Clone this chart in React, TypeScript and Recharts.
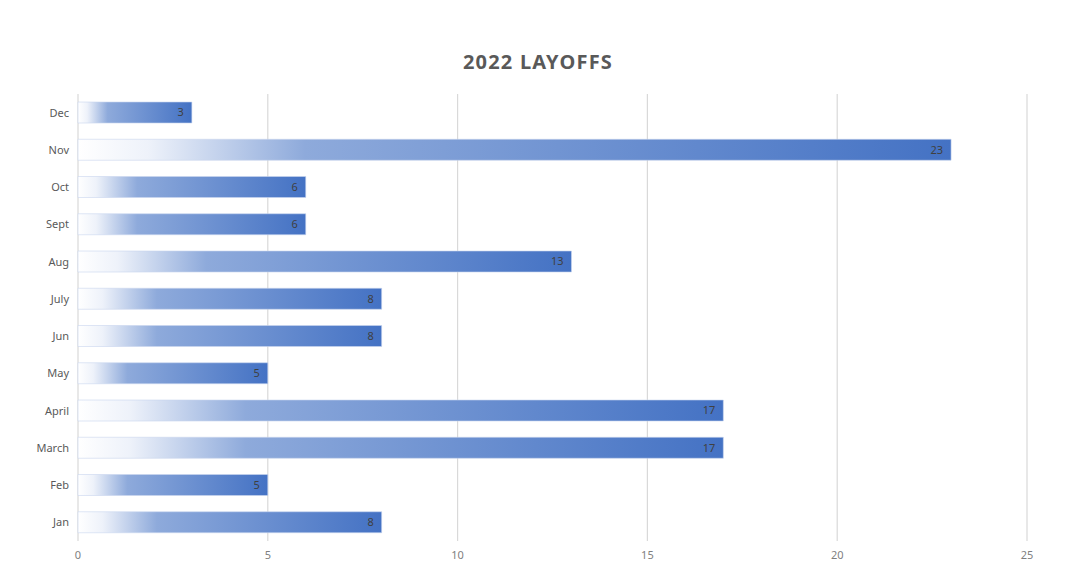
import { BarChart, Bar, XAxis, YAxis, CartesianGrid, LabelList } from 'recharts';

const months = ['Jan', 'Feb', 'March', 'April', 'May', 'Jun', 'July', 'Aug', 'Sept', 'Oct', 'Nov', 'Dec'];
const layoffs = [8, 5, 17, 17, 5, 8, 8, 13, 6, 6, 23, 3];
const xTicks = [0, 5, 10, 15, 20, 25];

const data = months.map((m, i) => ({ month: m, layoffs: layoffs[i] }));

const font = '"Noto Sans", Roboto, sans-serif';

export default function App() {
  return (
    <div
      style={{
        position: 'absolute',
        left: 0,
        top: 0,
        width: 1080,
        height: 581,
        background: '#ffffff',
        fontFamily: font,
      }}
    >
      <div
        style={{
          position: 'absolute',
          top: 48,
          left: 0,
          width: 1076,
          textAlign: 'center',
          fontSize: 20,
          fontWeight: 700,
          color: '#595959',
          letterSpacing: 1.2,
        }}
      >
        2022 LAYOFFS
      </div>
      <BarChart
        width={1080}
        height={581}
        data={data}
        layout="vertical"
        margin={{ top: 94, right: 53, left: 0, bottom: 10 }}
      >
        <defs>
          <linearGradient id="barFill" x1="0" y1="0" x2="1" y2="0">
            <stop offset="0" stopColor="#ffffff" />
            <stop offset="0.08" stopColor="#eef2fa" />
            <stop offset="0.26" stopColor="#8eaadb" />
            <stop offset="1" stopColor="#4472c4" />
          </linearGradient>
        </defs>
        <CartesianGrid horizontal={false} stroke="#d9d9d9" strokeWidth={1.2} />
        <XAxis
          type="number"
          domain={[0, 25]}
          ticks={xTicks}
          axisLine={false}
          tickLine={false}
          tickMargin={4}
          height={30}
          tick={{ fill: '#7f7f7f', fontSize: 11, fontFamily: font }}
        />
        <YAxis
          type="category"
          dataKey="month"
          reversed
          width={78}
          axisLine={false}
          tickLine={false}
          tickSize={0}
          tickMargin={9}
          tick={{ fill: '#595959', fontSize: 11, fontFamily: font }}
        />
        <Bar
          dataKey="layoffs"
          barSize={21}
          fill="url(#barFill)"
          stroke="#c9d6ee"
          strokeOpacity={0.6}
          strokeWidth={1}
          isAnimationActive={false}
        >
          <LabelList
            dataKey="layoffs"
            position="insideRight"
            offset={8}
            style={{ fill: '#404040', fontSize: 11, fontFamily: font }}
          />
        </Bar>
      </BarChart>
    </div>
  );
}
